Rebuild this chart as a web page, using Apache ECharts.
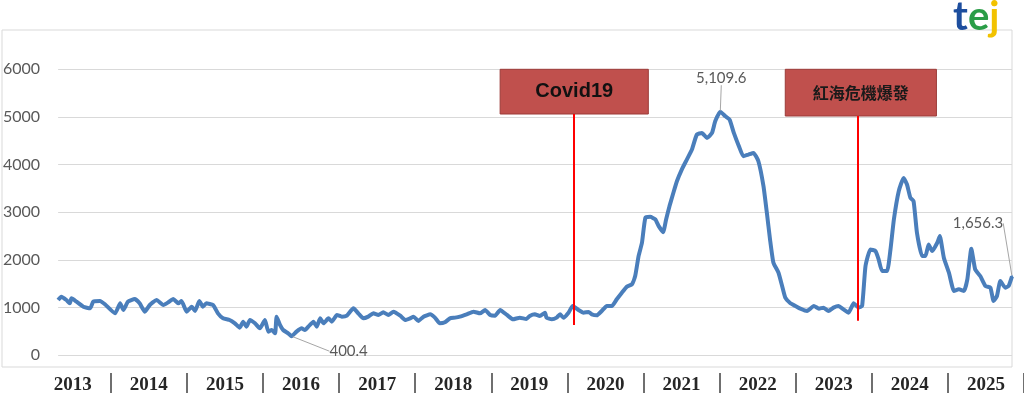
<!DOCTYPE html>
<html>
<head>
<meta charset="utf-8">
<script src="https://cdn.jsdelivr.net/npm/echarts/dist/echarts.min.js"></script>
<style>
html,body{margin:0;padding:0;background:#fff;}
#main{width:1024px;height:395px;}
</style>
</head>
<body>
<div id="main"></div>
<script>
// ---------- data ----------
const yearLabels = ['2013','2014','2015','2016','2017','2018','2019','2020','2021','2022','2023','2024','2025'];

const dates = [
'2013-04-21','2013-05-06','2013-05-30','2013-06-15','2013-06-23','2013-07-17','2013-08-18','2013-09-19','2013-10-04','2013-11-05','2013-11-28',
'2014-01-15','2014-02-08','2014-02-23','2014-03-17','2014-04-18','2014-05-11','2014-06-05','2014-06-28','2014-07-30','2014-08-31','2014-09-23','2014-10-17','2014-11-10','2014-11-25','2014-12-19',
'2015-01-12','2015-01-28','2015-02-17','2015-03-06','2015-03-22','2015-04-23','2015-05-16','2015-06-09','2015-07-10','2015-08-04','2015-08-27','2015-09-12','2015-09-28','2015-10-14','2015-11-07','2015-11-30','2015-12-24',
'2016-01-09','2016-01-25','2016-02-10','2016-02-17','2016-03-04','2016-03-19','2016-04-12','2016-04-28','2016-05-21','2016-06-14','2016-06-30','2016-07-16','2016-08-09','2016-08-25','2016-09-10','2016-09-26','2016-10-19','2016-11-04','2016-11-28','2016-12-21',
'2017-01-14','2017-02-14','2017-03-09','2017-04-02','2017-04-25','2017-05-19','2017-06-12','2017-07-05','2017-07-29','2017-08-22','2017-09-23','2017-10-16','2017-11-09','2017-11-25','2017-12-18',
'2018-01-11','2018-02-12','2018-03-06','2018-03-29','2018-04-22','2018-05-16','2018-06-09','2018-07-02','2018-08-03','2018-09-04','2018-10-05','2018-10-29','2018-11-22','2018-12-15',
'2019-01-08','2019-02-09','2019-03-10','2019-04-11','2019-05-12','2019-05-28','2019-06-21','2019-07-14','2019-08-08','2019-08-15','2019-09-09','2019-10-02','2019-10-18','2019-11-03','2019-11-27','2019-12-17',
'2020-01-13','2020-02-06','2020-03-01','2020-03-16','2020-04-09','2020-05-02','2020-05-26','2020-06-19','2020-07-12','2020-08-05','2020-08-29','2020-09-22','2020-10-07','2020-10-23','2020-11-08','2020-11-24','2020-12-17',
'2021-01-10','2021-01-26','2021-02-16','2021-03-02','2021-03-18','2021-04-03','2021-04-22','2021-05-15','2021-06-08','2021-07-02','2021-07-25','2021-08-18','2021-09-11','2021-10-05','2021-10-20','2021-11-13','2021-12-07','2021-12-27',
'2022-01-16','2022-02-09','2022-03-02','2022-03-26','2022-04-19','2022-05-12','2022-06-05','2022-06-21','2022-07-06','2022-07-22','2022-08-15','2022-09-01','2022-09-16','2022-10-10','2022-11-03','2022-11-26','2022-12-28',
'2023-01-29','2023-02-22','2023-03-15','2023-04-08','2023-05-02','2023-05-25','2023-06-18','2023-07-12','2023-08-05','2023-08-28','2023-09-14','2023-09-30','2023-10-23','2023-11-16','2023-12-01','2023-12-17',
'2024-01-10','2024-01-26','2024-02-11','2024-03-05','2024-03-28','2024-04-13','2024-04-29','2024-05-14','2024-05-30','2024-06-23','2024-07-09','2024-07-24','2024-08-10','2024-09-03','2024-09-15','2024-10-04','2024-10-28','2024-11-21','2024-12-14',
'2025-01-07','2025-01-23','2025-02-11','2025-03-01','2025-03-25','2025-04-18','2025-05-12','2025-05-27','2025-06-12','2025-06-28','2025-07-21','2025-08-06','2025-08-22'
];

const values = [
1160,1230,1160,1090,1195,1125,1020,985,1125,1140,1070,
880,1090,950,1125,1180,1090,915,1055,1160,1055,1110,1180,1090,1140,915,
1020,930,1140,1020,1090,1055,880,776,741,671,580,706,601,741,671,566,741,
496,531,461,811,636,531,461,400.4,496,566,531,601,706,601,776,671,776,706,846,811,
832,985,880,776,811,880,846,902,846,915,832,741,776,811,720,
811,860,790,671,692,776,790,811,860,915,880,950,846,832,
950,846,755,790,762,825,860,825,895,790,755,790,860,790,895,1035,
951,895,909,860,839,930,1035,1035,1175,1314,1440,1489,1663,2082,2361,2885,2906,
2850,2710,2584,2850,3129,3373,3652,3897,4106,4316,4630,4665,4560,4665,4909,5109.6,5014,4944,
4665,4386,4176,4211,4246,4071,3548,2989,2431,1942,1733,1454,1209,1091,1035,979,930,
1035,979,1000,930,1000,1035,965,895,1091,1000,1035,1873,2222,2187,2012,1768,
1768,2222,2850,3443,3722,3583,3303,3234,2571,2082,2082,2326,2187,2361,2501,2047,1733,1349,1384,
1349,1593,2236,1803,1663,1454,1419,1140,1244,1558,1419,1454,1656.3
];

// annotated points -> label offset (px) from the point
const labelledDates = ['2021-11-13','2016-04-28','2025-08-22'];
const labelOffsets = {'2021-11-13':[1,-34], '2016-04-28':[57,15], '2025-08-22':[-34,-53]};

// event annotations (data coordinates)
const events = [
  {name:'Covid19', lineDate:'2019-12-20', lineFrom:5062, lineTo:636,
   boxFrom:['2019-01-08',6153], boxTo:['2020-12-08',5062], latin:true},
  {name:'紅海危機爆發', lineDate:'2023-08-23', lineFrom:5020, lineTo:726,
   boxFrom:['2022-09-16',6195], boxTo:['2024-08-30',5020], latin:false}
];

// ---------- chart ----------
const ts = s => new Date(s + 'T00:00:00').getTime();
const chart = echarts.init(document.getElementById('main'), null, {renderer:'canvas'});

const seriesData = dates.map((d, i) => {
  const item = {value:[ts(d), values[i]]};
  if (labelledDates.indexOf(d) >= 0) {
    item.symbol = 'circle';
    item.symbolSize = 2;
    item.label = {show:true};
  }
  return item;
});

const markAreaData = events.map(e => [
  {name:e.name, coord:[ts(e.boxFrom[0]), e.boxFrom[1]],
   label: e.latin ? {fontFamily:'Liberation Sans', fontWeight:'bold', fontSize:20, color:'#111'}
                  : {fontFamily:'Noto Sans CJK TC', fontWeight:'bold', fontSize:16, color:'#1a1a1a'}},
  {coord:[ts(e.boxTo[0]), e.boxTo[1]]}
]);
const markLineData = events.map(e => [
  {coord:[ts(e.lineDate), e.lineFrom]},
  {coord:[ts(e.lineDate), e.lineTo]}
]);

const option = {
  animation:false,
  backgroundColor:'#fff',
  title:{
    text:'{t|t}{e|e}{j|j}',
    left:948, top:-8,
    textStyle:{
      rich:{
        t:{color:'#1D4E9E', fontSize:40, fontWeight:'bold', fontFamily:'Lato'},
        e:{color:'#2A9D47', fontSize:40, fontWeight:'bold', fontFamily:'Lato'},
        j:{color:'#F2C200', fontSize:40, fontWeight:'bold', fontFamily:'Lato'}
      }
    }
  },
  grid:[
    {left:58, right:12, top:69.3, height:286},
    {left:34.7, width:1004.5, top:372, height:1},
    {left:2, right:12, top:30, bottom:28, show:true, borderColor:'#D9D9D9', borderWidth:1, backgroundColor:'transparent', z:0}
  ],
  xAxis:[
    {gridIndex:0, type:'time', min:'dataMin', max:'dataMax', show:false},
    {gridIndex:1, type:'category', data:yearLabels, boundaryGap:true, position:'bottom',
     axisLine:{show:false},
     axisTick:{show:true, length:20, interval:(idx) => idx !== 0, lineStyle:{color:'#404040', width:1.5}},
     axisLabel:{margin:3, fontFamily:'Liberation Serif', fontSize:19, fontWeight:'bold', color:'#262626', interval:0}},
    {gridIndex:2, type:'value', min:0, max:1, show:false}
  ],
  yAxis:[
    {gridIndex:0, type:'value', min:0, max:6000, interval:1000,
     axisLine:{show:false}, axisTick:{show:false},
     axisLabel:{margin:18, fontFamily:'Lato', fontSize:16, color:'#595959', formatter:v => String(v)},
     splitLine:{lineStyle:{color:'#D9D9D9', width:1}}},
    {gridIndex:1, type:'value', show:false},
    {gridIndex:2, type:'value', min:0, max:1, show:false}
  ],
  series:[{
    type:'line',
    xAxisIndex:0, yAxisIndex:0,
    data:seriesData,
    clip:false,
    showSymbol:true,
    showAllSymbol:true,
    symbol:'none',
    smooth:0.15,
    lineStyle:{color:'#4A7EBB', width:4},
    itemStyle:{color:'#4A7EBB'},
    label:{
      show:false, position:'inside',
      fontFamily:'Lato', fontSize:15, color:'#595959',
      formatter:p => echarts.format.addCommas(p.value[1].toFixed(1))
    },
    labelLine:{show:true, lineStyle:{color:'#A6A6A6', width:1}},
    labelLayout:function(params){
      const d = dates[params.dataIndex];
      const off = labelOffsets[d];
      if (!off) return {};
      const cx = params.rect.x + params.rect.width/2;
      const cy = params.rect.y + params.rect.height/2;
      return {x:cx+off[0], y:cy+off[1], align:'center', verticalAlign:'middle'};
    },
    markArea:{
      silent:true,
      itemStyle:{color:'#C0504D', borderColor:'#9B3B39', borderWidth:1},
      label:{show:true, position:'inside'},
      data:markAreaData
    },
    markLine:{
      silent:true, symbol:['none','none'],
      label:{show:false},
      lineStyle:{color:'#FF0000', width:2, type:'solid'},
      data:markLineData
    },
    z:3
  }]
};
chart.setOption(option);
</script>
</body>
</html>
